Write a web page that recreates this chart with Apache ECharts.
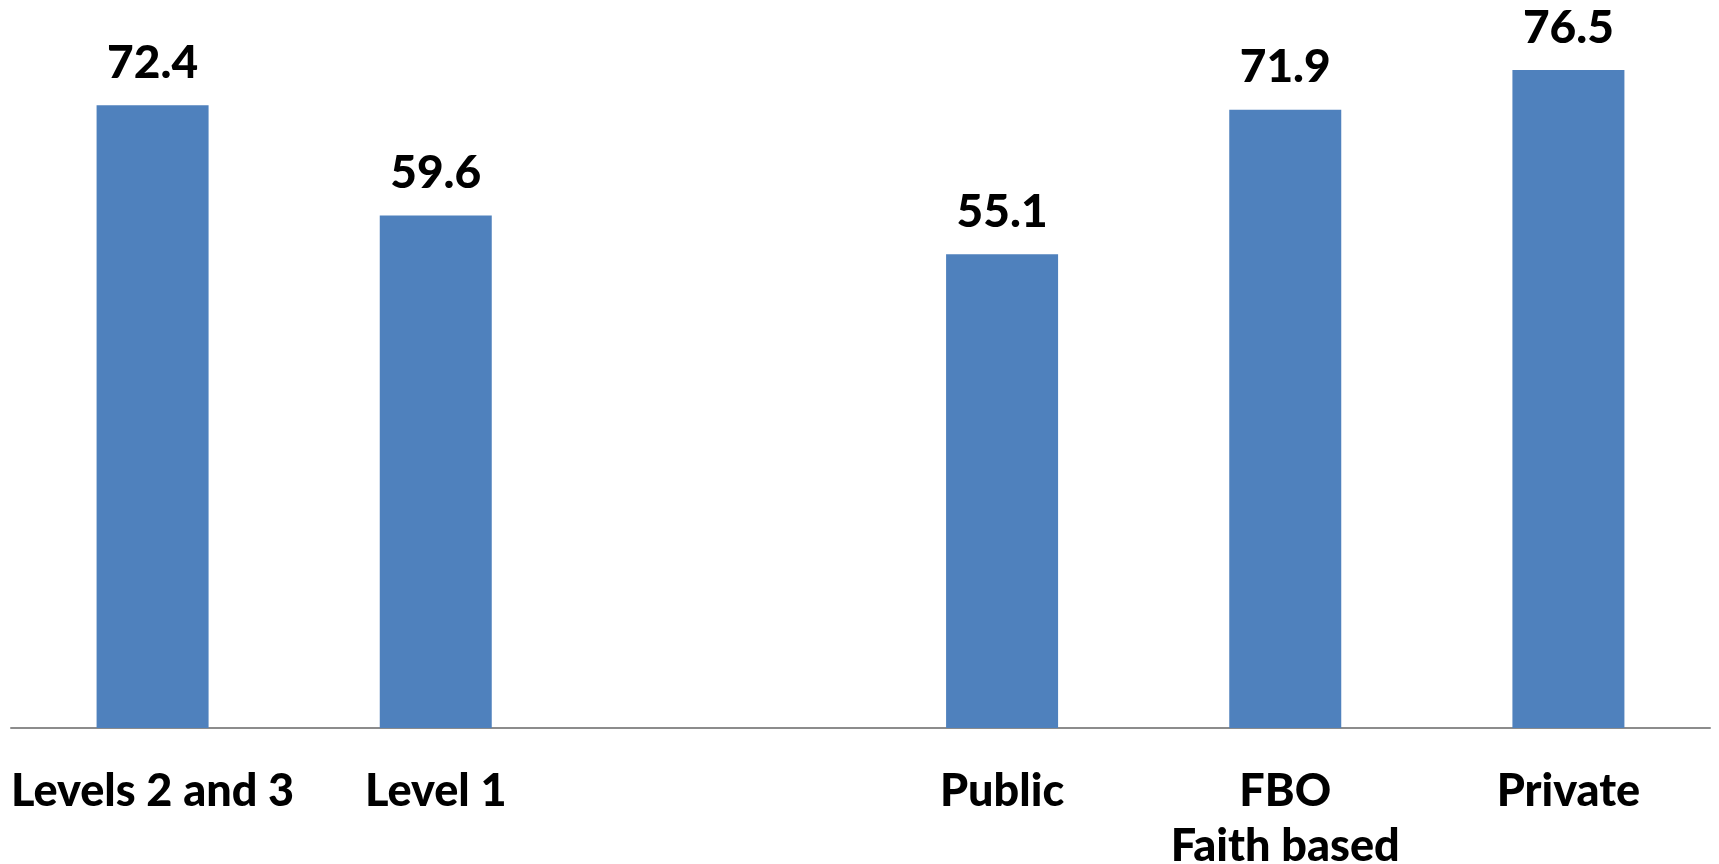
<!DOCTYPE html>
<html>
<head>
<meta charset="utf-8">
<script src="https://cdn.jsdelivr.net/npm/echarts@6/dist/echarts.min.js"></script>
<style>
  html, body { margin: 0; padding: 0; background: #ffffff; }
  #chart { width: 1719px; height: 864px; }
</style>
</head>
<body>
<div id="chart"></div>
<script>
// Facility groups; the empty slot separates the level group from the ownership group
const categories = ['Levels 2 and 3', 'Level 1', '', 'Public', 'FBO\nFaith based', 'Private'];
const values = [72.4, 59.6, '-', 55.1, 71.9, 76.5];

const chart = echarts.init(document.getElementById('chart'));
chart.setOption({
  backgroundColor: '#ffffff',
  animation: false,
  grid: { left: 11, right: 9, top: 40, bottom: 136, outerBoundsMode: 'none', containLabel: false },
  xAxis: {
    type: 'category',
    data: categories,
    axisLine: { lineStyle: { color: '#8c8c8c', width: 2 } },
    axisTick: { show: false },
    axisLabel: {
      interval: 0,
      margin: 36,
      color: '#000000',
      fontFamily: 'Lato',
      fontWeight: 900,
      fontSize: 45,
      lineHeight: 55
    }
  },
  yAxis: {
    type: 'value',
    min: 0,
    max: 80,
    show: false
  },
  series: [{
    type: 'bar',
    data: values,
    barWidth: 112,
    itemStyle: { color: '#4f81bd' },
    label: {
      show: true,
      position: 'top',
      distance: 19,
      color: '#000000',
      fontFamily: 'Lato',
      fontWeight: 900,
      fontSize: 46,
      formatter: p => p.value.toFixed(1)
    }
  }]
});
</script>
</body>
</html>
